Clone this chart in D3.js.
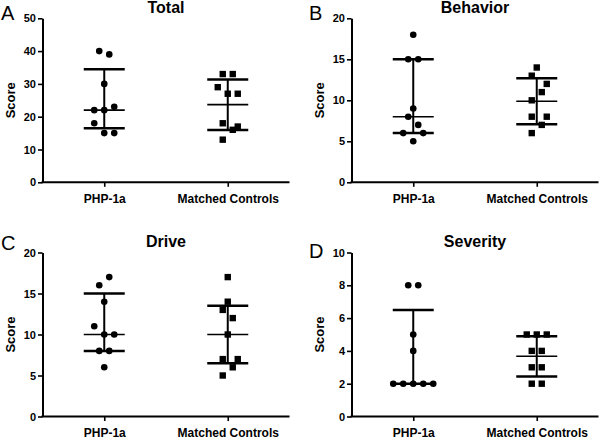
<!DOCTYPE html>
<html><head><meta charset="utf-8">
<script src="https://cdn.jsdelivr.net/npm/d3@7"></script>
<style>
body{margin:0;background:#fff;}
svg{display:block;font-family:"Liberation Sans",Arial,sans-serif;}
</style></head>
<body>
<svg id="chart" width="600" height="440"></svg>
<script>
// ---------- data ----------
const categories = ["PHP-1a", "Matched Controls"];
const panelLetters = ["A", "B", "C", "D"];
const panelTitles = ["Total", "Behavior", "Drive", "Severity"];
const yMax = [50, 20, 20, 10];
const yTickStep = [10, 5, 5, 2];

const totalPHP = [40, 39, 30, 23, 22, 22, 18, 15, 15];
const totalPHPSlot = [-1, 1, 0, 2, -2, 0, -2, 0, 2];
const totalCtrl = [33, 33, 29, 27, 27, 18, 17, 16, 13];
const totalCtrlSlot = [-1, 1, -2, 0, 2, -1, 2, 1, -1];
const totalPHPSummary = [16.5, 22, 34.5];     // low, centre, high
const totalCtrlSummary = [15.97, 23.67, 31.37];

const behaviorPHP = [18, 15, 15, 9, 8, 7, 6, 6, 5];
const behaviorPHPSlot = [0, -1, 1, 0, -1, 1, -2, 2, 0];
const behaviorCtrl = [14, 13, 12, 11, 10, 8, 8, 7, 6];
const behaviorCtrlSlot = [0, -1, 2, 1, -1, -1, 2, 1, -1];
const behaviorPHPSummary = [6, 8, 15];
const behaviorCtrlSummary = [7.09, 9.89, 12.69];

const drivePHP = [17, 16, 14, 11, 10, 10, 8, 8, 6];
const drivePHPSlot = [1, -1, 0, -2, 0, 2, -1, 1, 0];
const driveCtrl = [17, 14, 13, 12, 10, 7, 7, 6, 5];
const driveCtrlSlot = [0, 0, -1, 1, 0, -1, 2, 1, -1];
const drivePHPSummary = [8, 10, 15];
const driveCtrlSummary = [6.5, 10, 13.5];

const severityPHP = [8, 8, 5, 4, 2, 2, 2, 2, 2];
const severityPHPSlot = [-1, 1, 0, 0, -4, -2, 0, 2, 4];
const severityCtrl = [5, 5, 5, 4, 4, 3, 3, 2, 2];
const severityCtrlSlot = [-2, 0, 2, -1, 1, -1, 1, -1, 1];
const severityPHPSummary = [2, 2, 6.5];
const severityCtrlSummary = [2.44, 3.67, 4.89];

const panelData = [
  {php: totalPHP, phpSlot: totalPHPSlot, ctrl: totalCtrl, ctrlSlot: totalCtrlSlot, phpSum: totalPHPSummary, ctrlSum: totalCtrlSummary},
  {php: behaviorPHP, phpSlot: behaviorPHPSlot, ctrl: behaviorCtrl, ctrlSlot: behaviorCtrlSlot, phpSum: behaviorPHPSummary, ctrlSum: behaviorCtrlSummary},
  {php: drivePHP, phpSlot: drivePHPSlot, ctrl: driveCtrl, ctrlSlot: driveCtrlSlot, phpSum: drivePHPSummary, ctrlSum: driveCtrlSummary},
  {php: severityPHP, phpSlot: severityPHPSlot, ctrl: severityCtrl, ctrlSlot: severityCtrlSlot, phpSum: severityPHPSummary, ctrlSum: severityCtrlSummary}
];

// ---------- layout ----------
const W = 247, H = 164;
const origins = [[42.5, 18.3], [351.5, 18.3], [42.5, 252.5], [351.5, 252.5]];
const letterPos = [[1, 20], [309, 20], [1, 250], [309, 258]];
const svg = d3.select("#chart");

const slotScale = d3.scaleLinear().domain([-1, 1]).range([-5, 5]);

panelData.forEach((pd, i) => {
  const [ox, oy] = origins[i];
  const g = svg.append("g").attr("transform", `translate(${ox},${oy})`);
  const x = d3.scalePoint().domain(categories).range([0, W]).padding(0.5);
  const y = d3.scaleLinear().domain([0, yMax[i]]).range([H, 0]);

  // y axis
  const ya = g.append("g").call(d3.axisLeft(y).tickValues(d3.range(0, yMax[i] + 0.001, yTickStep[i])).tickSize(4.5).tickSizeOuter(0).tickPadding(2));
  ya.select(".domain").attr("stroke-width", 2);
  ya.selectAll(".tick line").attr("stroke-width", 1.6);
  ya.selectAll("text").attr("font-size", 11).attr("font-weight", "bold").attr("fill", "#000").attr("font-family", "Liberation Sans, Arial, sans-serif");

  // x axis
  const xa = g.append("g").attr("transform", `translate(0,${H})`).call(d3.axisBottom(x).tickSize(4.5).tickSizeOuter(0).tickPadding(7.5));
  xa.select(".domain").remove();
  xa.append("line").attr("x1", -1).attr("x2", W).attr("stroke", "#000").attr("stroke-width", 2);
  xa.selectAll(".tick line").attr("stroke-width", 1.6);
  xa.selectAll("text").attr("font-size", 12).attr("font-weight", "bold").attr("fill", "#000").attr("font-family", "Liberation Sans, Arial, sans-serif");

  // y label
  g.append("text").attr("transform", `translate(${-27.5},${H / 2}) rotate(-90)`)
    .attr("text-anchor", "middle").attr("font-size", 13).attr("font-weight", "bold").text("Score");

  // title
  g.append("text").attr("x", W / 2).attr("y", -5.5).attr("text-anchor", "middle")
    .attr("font-size", 16).attr("font-weight", "bold").text(panelTitles[i]);

  // panel letter
  svg.append("text").attr("x", letterPos[i][0]).attr("y", letterPos[i][1])
    .attr("font-size", 20).attr("font-family", "Liberation Sans, Arial, sans-serif").text(panelLetters[i]);

  // error bars
  const groups = [[categories[0], pd.phpSum], [categories[1], pd.ctrlSum]];
  groups.forEach(([cat, s]) => {
    const cx = x(cat), hw = 20.5;
    g.append("line").attr("x1", cx).attr("x2", cx).attr("y1", y(s[0])).attr("y2", y(s[2])).attr("stroke", "#000").attr("stroke-width", 2);
    g.append("line").attr("x1", cx - hw).attr("x2", cx + hw).attr("y1", y(s[0])).attr("y2", y(s[0])).attr("stroke", "#000").attr("stroke-width", 2.5);
    g.append("line").attr("x1", cx - hw).attr("x2", cx + hw).attr("y1", y(s[2])).attr("y2", y(s[2])).attr("stroke", "#000").attr("stroke-width", 2.5);
    g.append("line").attr("x1", cx - hw).attr("x2", cx + hw).attr("y1", y(s[1])).attr("y2", y(s[1])).attr("stroke", "#000").attr("stroke-width", 1.6);
  });

  // points
  g.selectAll("circle.php").data(pd.php.map((v, k) => ({v, s: pd.phpSlot[k]}))).enter()
    .append("circle").attr("class", "php")
    .attr("cx", d => x(categories[0]) + slotScale(d.s)).attr("cy", d => y(d.v)).attr("r", 3.3).attr("fill", "#000");
  const sq = 6.4;
  g.selectAll("rect.ctrl").data(pd.ctrl.map((v, k) => ({v, s: pd.ctrlSlot[k]}))).enter()
    .append("rect").attr("class", "ctrl")
    .attr("x", d => x(categories[1]) + slotScale(d.s) - sq / 2).attr("y", d => y(d.v) - sq / 2)
    .attr("width", sq).attr("height", sq).attr("fill", "#000");
});
</script>
</body></html>
